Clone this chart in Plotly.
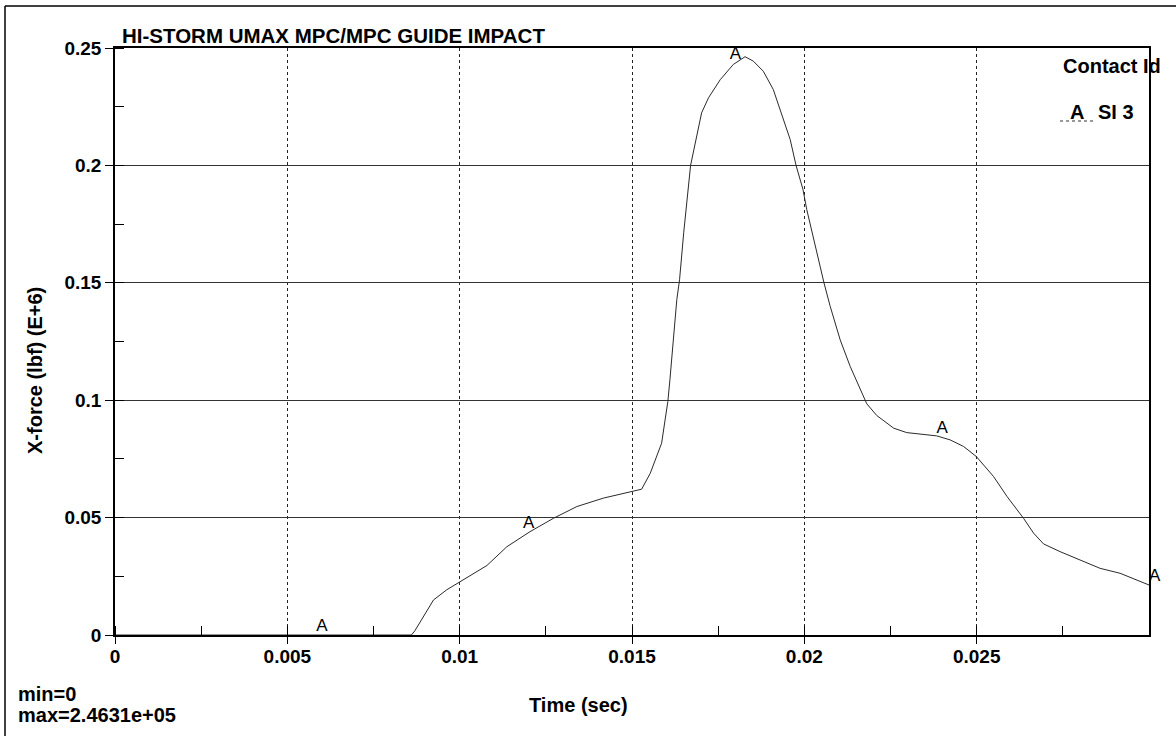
import numpy as np
import plotly.graph_objects as go

# ---- data ----
time_s = [0, 0.0086, 0.0087, 0.00895, 0.00924, 0.00962, 0.00998, 0.0104, 0.01079, 0.01137,
          0.01204, 0.01272, 0.0134, 0.01417, 0.01499, 0.01528, 0.01553, 0.01572, 0.01586, 0.01596,
          0.01604, 0.0161, 0.0162, 0.0163, 0.01638, 0.0165, 0.0167, 0.01688, 0.01702, 0.01722,
          0.01756, 0.01794, 0.01828, 0.01852, 0.01881, 0.0191, 0.01939, 0.01959, 0.01976, 0.01996,
          0.02007, 0.02031, 0.02057, 0.02075, 0.02104, 0.02133, 0.02162, 0.02181, 0.0221, 0.02259,
          0.02297, 0.02336, 0.02384, 0.02423, 0.02462, 0.02499, 0.02549, 0.02588, 0.02636, 0.02665,
          0.02694, 0.02742, 0.028, 0.02858, 0.02916, 0.02965, 0.03]
xforce = [0, 0, 0.0018, 0.0078, 0.0149, 0.0192, 0.0224, 0.026, 0.0296, 0.0376,
          0.044, 0.0497, 0.0547, 0.0583, 0.0611, 0.0621, 0.0689, 0.076, 0.0817, 0.0916,
          0.0994, 0.1087, 0.1271, 0.1428, 0.1513, 0.1713, 0.2, 0.2125, 0.2224, 0.2288,
          0.2365, 0.243, 0.2463, 0.2444, 0.2401, 0.2323, 0.2195, 0.211, 0.2, 0.1898,
          0.1812, 0.1656, 0.15, 0.14, 0.1257, 0.1144, 0.1052, 0.0985, 0.0935, 0.0881,
          0.0862, 0.0855, 0.0848, 0.0831, 0.0803, 0.076, 0.0675, 0.059, 0.0497, 0.0434,
          0.0388, 0.0355, 0.032, 0.0284, 0.0263, 0.0234, 0.0213]
marker_times = [0.006, 0.012, 0.018, 0.024, 0.03]
marker_labels = ["A", "A", "A", "A", "A"]
x_tickvals = [0, 0.005, 0.01, 0.015, 0.02, 0.025]
x_ticktext = ["0", "0.005", "0.01", "0.015", "0.02", "0.025"]
y_tickvals = [0, 0.05, 0.1, 0.15, 0.2, 0.25]
y_ticktext = ["0", "0.05", "0.1", "0.15", "0.2", "0.25"]

FONT = "Arial, Liberation Sans, sans-serif"

W, H = 1176, 736
L, R, T, B = 115, 27, 48, 101
pw, ph = W - L - R, H - T - B


def px(x):
    return (x - L) / pw


def py(y):
    return (H - B - y) / ph


marker_y = np.interp(marker_times, time_s, xforce)

fig = go.Figure()
fig.add_trace(go.Scatter(
    x=time_s, y=xforce, mode="lines",
    line=dict(color="#2a2a2a", width=1), showlegend=False, hoverinfo="skip"))
fig.add_trace(go.Scatter(
    x=marker_times, y=marker_y, mode="text", text=marker_labels,
    textposition=["top center", "top center", "top center", "top center", "top right"],
    textfont=dict(family=FONT, size=17, color="black"),
    showlegend=False, cliponaxis=False, hoverinfo="skip"))

fig.update_layout(
    width=W, height=H,
    margin=dict(l=L, r=R, t=T, b=B),
    paper_bgcolor="white", plot_bgcolor="white",
    font=dict(family=FONT, color="black"),
    xaxis=dict(
        range=[0, 0.03], tickvals=x_tickvals, ticktext=x_ticktext,
        ticks="outside", ticklen=7, tickcolor="black",
        tickfont=dict(family=FONT, size=19, weight="bold"),
        ticklabelstandoff=-4,
        showgrid=True, gridcolor="#222222", griddash="dot", gridwidth=1,
        showline=True, linecolor="black", linewidth=1.5, mirror=True,
        zeroline=False,
        minor=dict(ticks="inside", ticklen=9, tickcolor="black", dtick=0.0025,
                   tick0=0, showgrid=False),
    ),
    yaxis=dict(
        range=[0, 0.25], tickvals=y_tickvals, ticktext=y_ticktext,
        ticks="outside", ticklen=8, tickcolor="black",
        tickfont=dict(family=FONT, size=19, weight="bold"),
        showgrid=True, gridcolor="#333333", gridwidth=1,
        showline=True, linecolor="black", linewidth=1.5, mirror=True,
        zeroline=False,
        minor=dict(ticks="inside", ticklen=9, tickcolor="black", dtick=0.025,
                   tick0=0, showgrid=False),
    ),
)

ann = [
    dict(text="HI-STORM UMAX MPC/MPC GUIDE IMPACT", x=px(120), y=py(35),
         xanchor="left", yanchor="middle", font=dict(size=20.5, weight="bold")),
    dict(text="X-force (lbf) (E+6)", x=px(35), y=py(371), textangle=-90,
         xanchor="center", yanchor="middle", font=dict(size=20, weight="bold")),
    dict(text="Time (sec)", x=px(578), y=py(705),
         xanchor="center", yanchor="middle", font=dict(size=20, weight="bold")),
    dict(text="min=0", x=px(16), y=py(694),
         xanchor="left", yanchor="middle", font=dict(size=20, weight="bold")),
    dict(text="max=2.4631e+05", x=px(16), y=py(715),
         xanchor="left", yanchor="middle", font=dict(size=20, weight="bold")),
    dict(text="Contact Id", x=px(1061), y=py(66),
         xanchor="left", yanchor="middle", font=dict(size=20, weight="bold")),
    dict(text="A", x=px(1077), y=py(112),
         xanchor="center", yanchor="middle", font=dict(size=20, weight="bold")),
    dict(text="SI 3", x=px(1096), y=py(112),
         xanchor="left", yanchor="middle", font=dict(size=20, weight="bold")),
]
for a in ann:
    a.update(xref="paper", yref="paper", showarrow=False)
    a["font"].setdefault("family", FONT)
    a["font"].setdefault("color", "black")
fig.update_layout(annotations=ann)

shapes = [
    # legend line sample
    dict(type="line", x0=px(1060), x1=px(1096), y0=py(121), y1=py(121),
         line=dict(color="#333333", width=1, dash="dot")),
    # outer frame: left and top
    dict(type="line", x0=px(5), x1=px(5), y0=py(6), y1=py(736),
         line=dict(color="black", width=1.5)),
    dict(type="line", x0=px(5), x1=px(1176), y0=py(6), y1=py(6),
         line=dict(color="black", width=1.5)),
]
for s in shapes:
    s.update(xref="paper", yref="paper", layer="above")
fig.update_layout(shapes=shapes)

fig.write_html("out.html")
